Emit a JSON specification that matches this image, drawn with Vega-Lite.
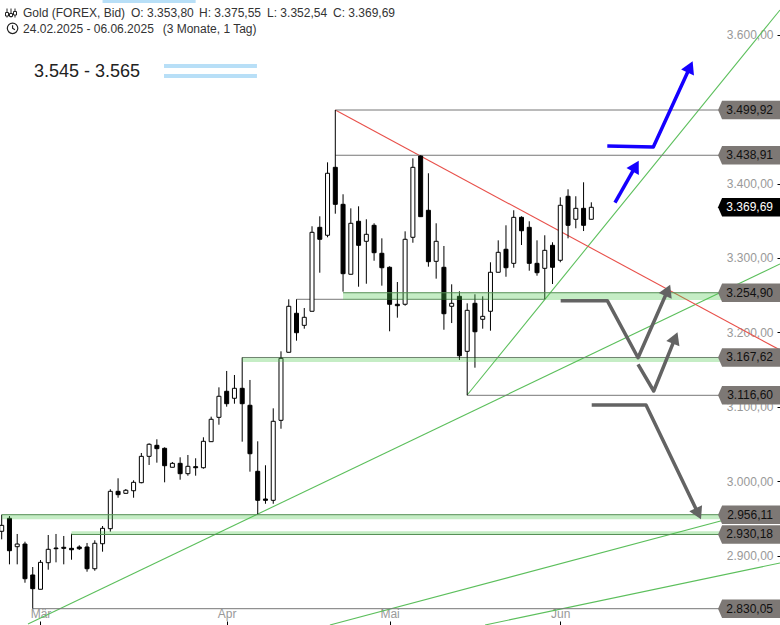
{"$schema":"https://vega.github.io/schema/vega-lite/v6.json","width":780,"height":625,"padding":0,"autosize":{"type":"none"},"background":"white","config":{"font":"Liberation Sans","view":{"stroke":null}},
"resolve":{"axis":{"x":"independent","y":"independent"}},
"datasets":{
"candles":[
{"i":0,"o":2932.8,"h":2955.1,"l":2922.0,"c":2940.8},{"i":1,"o":2950.2,"h":2953.3,"l":2888.4,"c":2906.7},{"i":2,"o":2912.1,"h":2929.2,"l":2888.4,"c":2915.7},{"i":3,"o":2915.7,"h":2918.8,"l":2863.7,"c":2869.1},{"i":4,"o":2874.1,"h":2884.8,"l":2828.8,"c":2855.7},{"i":5,"o":2854.9,"h":2894.2,"l":2854.9,"c":2891.1},{"i":6,"o":2890.6,"h":2927.8,"l":2881.2,"c":2908.6},{"i":7,"o":2910.3,"h":2929.2,"l":2891.1,"c":2909.4},{"i":8,"o":2911.3,"h":2926.5,"l":2888.4,"c":2909.9},{"i":9,"o":2909.9,"h":2929.5,"l":2894.6,"c":2908.0},
{"i":10,"o":2911.7,"h":2914.0,"l":2907.7,"c":2909.4},{"i":11,"o":2911.7,"h":2917.1,"l":2878.5,"c":2882.5},{"i":12,"o":2882.5,"h":2920.7,"l":2879.8,"c":2916.7},{"i":13,"o":2916.1,"h":2939.9,"l":2905.4,"c":2936.8},{"i":14,"o":2936.3,"h":2989.2,"l":2932.3,"c":2986.5},{"i":15,"o":2986.5,"h":3004.0,"l":2977.9,"c":2982.0},{"i":16,"o":2983.8,"h":2989.6,"l":2983.8,"c":2987.9},{"i":17,"o":2987.3,"h":3001.3,"l":2977.9,"c":2998.6},{"i":18,"o":2998.1,"h":3038.0,"l":2997.3,"c":3033.5},{"i":19,"o":3033.5,"h":3051.0,"l":3021.9,"c":3049.7},
{"i":20,"o":3048.3,"h":3056.4,"l":3025.0,"c":3043.8},{"i":21,"o":3044.3,"h":3045.6,"l":2998.6,"c":3020.9},{"i":22,"o":3018.8,"h":3025.9,"l":3018.8,"c":3024.1},{"i":23,"o":3024.1,"h":3032.2,"l":3002.1,"c":3010.2},{"i":24,"o":3010.2,"h":3035.3,"l":3007.5,"c":3020.1},{"i":25,"o":3019.6,"h":3030.9,"l":3007.5,"c":3018.2},{"i":26,"o":3018.2,"h":3059.1,"l":3016.9,"c":3053.7},{"i":27,"o":3053.2,"h":3086.8,"l":3053.2,"c":3083.3},{"i":28,"o":3085.9,"h":3126.2,"l":3076.0,"c":3114.2},{"i":29,"o":3120.9,"h":3148.2,"l":3100.2,"c":3104.2},
{"i":30,"o":3111.5,"h":3142.8,"l":3104.2,"c":3124.9},{"i":31,"o":3124.9,"h":3166.3,"l":3053.2,"c":3104.2},{"i":32,"o":3102.1,"h":3136.1,"l":3012.9,"c":3037.0},{"i":33,"o":3013.4,"h":3053.7,"l":2955.6,"c":2974.4},{"i":34,"o":2976.2,"h":3021.5,"l":2969.8,"c":2974.4},{"i":35,"o":2974.4,"h":3098.0,"l":2969.8,"c":3080.6},{"i":36,"o":3081.9,"h":3174.6,"l":3070.6,"c":3165.2},{"i":37,"o":3173.3,"h":3244.5,"l":3173.3,"c":3235.1},{"i":38,"o":3225.7,"h":3244.5,"l":3188.9,"c":3199.6},{"i":39,"o":3209.5,"h":3232.8,"l":3205.0,"c":3220.3},
{"i":40,"o":3228.4,"h":3342.6,"l":3228.4,"c":3334.5},{"i":41,"o":3341.2,"h":3356.0,"l":3280.2,"c":3325.1},{"i":42,"o":3330.5,"h":3428.5,"l":3327.8,"c":3413.8},{"i":43,"o":3421.8,"h":3498.8,"l":3359.5,"c":3372.1},{"i":44,"o":3372.1,"h":3385.6,"l":3254.7,"c":3278.9},{"i":45,"o":3278.1,"h":3366.7,"l":3278.1,"c":3346.6},{"i":46,"o":3349.3,"h":3369.4,"l":3261.4,"c":3317.0},{"i":47,"o":3322.4,"h":3352.0,"l":3265.4,"c":3331.8},{"i":48,"o":3343.9,"h":3346.6,"l":3296.3,"c":3307.1},{"i":49,"o":3306.3,"h":3326.4,"l":3262.8,"c":3286.9},
{"i":50,"o":3287.5,"h":3288.8,"l":3201.5,"c":3237.8},{"i":51,"o":3237.8,"h":3267.7,"l":3219.8,"c":3235.9},{"i":52,"o":3237.8,"h":3335.8,"l":3235.9,"c":3325.1},{"i":53,"o":3327.8,"h":3433.9,"l":3320.5,"c":3421.8},{"i":54,"o":3437.0,"h":3438.0,"l":3355.5,"c":3355.5},{"i":55,"o":3364.1,"h":3413.8,"l":3288.3,"c":3295.0},{"i":56,"o":3295.5,"h":3346.6,"l":3272.2,"c":3322.4},{"i":57,"o":3287.5,"h":3316.1,"l":3203.6,"c":3225.1},{"i":58,"o":3235.1,"h":3264.6,"l":3212.6,"c":3239.1},{"i":59,"o":3248.5,"h":3255.2,"l":3162.9,"c":3168.7},
{"i":60,"o":3174.6,"h":3239.1,"l":3115.5,"c":3229.7},{"i":61,"o":3239.1,"h":3251.2,"l":3152.6,"c":3200.9},{"i":62,"o":3217.6,"h":3248.5,"l":3205.0,"c":3221.6},{"i":63,"o":3228.4,"h":3294.2,"l":3202.3,"c":3280.8},{"i":64,"o":3280.8,"h":3323.7,"l":3280.8,"c":3307.6},{"i":65,"o":3311.7,"h":3343.9,"l":3274.8,"c":3286.9},{"i":66,"o":3292.8,"h":3364.1,"l":3286.9,"c":3354.6},{"i":67,"o":3354.6,"h":3356.0,"l":3317.4,"c":3336.6},{"i":68,"o":3341.2,"h":3349.3,"l":3282.9,"c":3292.8},{"i":69,"o":3292.8,"h":3323.7,"l":3276.2,"c":3280.2},
{"i":70,"o":3286.1,"h":3330.5,"l":3244.5,"c":3310.3},{"i":71,"o":3317.0,"h":3321.1,"l":3265.0,"c":3287.5},{"i":72,"o":3296.9,"h":3381.5,"l":3294.2,"c":3370.8},{"i":73,"o":3382.9,"h":3392.3,"l":3326.4,"c":3343.9},{"i":74,"o":3352.0,"h":3382.9,"l":3339.9,"c":3366.7},{"i":75,"o":3366.7,"h":3401.7,"l":3336.2,"c":3343.9},{"i":76,"o":3352.0,"h":3374.8,"l":3352.0,"c":3368.1}],
"trend":[
{"s":"g1","c":"green","i":3.39,"p":2808.2},{"s":"g1","c":"green","i":100.32,"p":3291.9},
{"s":"g2","c":"green","i":60,"p":3115.9},{"s":"g2","c":"green","i":100.32,"p":3633.2},
{"s":"g3","c":"green","i":42.3,"p":2806.9},{"s":"g3","c":"green","i":97.74,"p":2960.7},
{"s":"g4","c":"green","i":62.3,"p":2806.9},{"s":"g4","c":"green","i":100.32,"p":2890.2},
{"s":"r","c":"red","i":43,"p":3498.8},{"s":"r","c":"red","i":100.32,"p":3176.4}],
"hlines":[
{"a":43,"b":96,"p":3498.8,"k":"gray"},{"a":43,"b":96,"p":3438.0,"k":"gray"},{"a":60,"b":96,"p":3115.5,"k":"gray"},{"a":4,"b":96,"p":2828.8,"k":"gray"},{"a":38,"b":70,"p":3244.5,"k":"gray"},{"a":31,"b":96,"p":3166.3,"k":"gray"},
{"a":44,"b":96,"p":3253.3,"k":"green"},{"a":0,"b":96,"p":2955.1,"k":"green"},{"a":9,"b":96,"p":2928.5,"k":"green"}],
"bands":[
{"a":44,"b":96,"t":3253.3,"u":3243.5},{"a":31,"b":96,"t":3166.3,"u":3160.2},{"a":0,"b":96,"t":2955.1,"u":2949.0},{"a":9,"b":96,"t":2933.0,"u":2928.5}],
"tags":[
{"p":3498.8,"t":"3.499,92","k":"level"},{"p":3438.0,"t":"3.438,91","k":"level"},{"p":3368.1,"t":"3.369,69","k":"last"},{"p":3253.3,"t":"3.254,90","k":"level"},{"p":3166.3,"t":"3.167,62","k":"level"},{"p":3115.5,"t":"3.116,60","k":"level"},{"p":2955.1,"t":"2.956,11","k":"level"},{"p":2928.5,"t":"2.930,18","k":"level"},{"p":2828.8,"t":"2.830,05","k":"level"}],
"arrows":[
{"s":"a","c":"blue","n":1,"i":78.06,"p":3450.4},{"s":"a","c":"blue","n":2,"i":83.99,"p":3449.1},{"s":"a","c":"blue","n":3,"i":88.62,"p":3554.2},
{"s":"b","c":"blue","n":1,"i":79.05,"p":3374.3},{"s":"b","c":"blue","n":2,"i":81.59,"p":3421.0},
{"s":"c","c":"gray","n":1,"i":72.05,"p":3242.6},{"s":"c","c":"gray","n":2,"i":78.06,"p":3242.6},{"s":"c","c":"gray","n":3,"i":82.02,"p":3166.0},{"s":"c","c":"gray","n":4,"i":85.74,"p":3254.0},
{"s":"d","c":"gray","n":1,"i":82.02,"p":3157.1},{"s":"d","c":"gray","n":2,"i":84.04,"p":3121.3},{"s":"d","c":"gray","n":3,"i":86.71,"p":3189.9},
{"s":"e","c":"gray","n":1,"i":76.05,"p":3102.5},{"s":"e","c":"gray","n":2,"i":83.05,"p":3102.5},{"s":"e","c":"gray","n":3,"i":89.68,"p":2958.8}],
"heads":[
{"c":"blue","i":88.62,"p":3554.2,"deg":24.6},{"c":"blue","i":81.59,"p":3421.0,"deg":29.6},{"c":"gray","i":85.74,"p":3254.0,"deg":23.8},{"c":"gray","i":86.71,"p":3189.9,"deg":22.1},{"c":"gray","i":89.68,"p":2958.8,"deg":154.3}],
"labels":[
{"i":2.75,"p":3629.1,"t":"Gold (FOREX, Bid)"},{"i":16.67,"p":3629.1,"t":"O: 3.353,80"},{"i":25.43,"p":3629.1,"t":"H: 3.375,55"},{"i":34.2,"p":3629.1,"t":"L: 3.352,54"},{"i":42.7,"p":3629.1,"t":"C: 3.369,69"},{"i":2.75,"p":3608.3,"t":"24.02.2025 - 06.06.2025"},{"i":20.75,"p":3608.3,"t":"(3 Monate, 1 Tag)"}],
"swatches":[
{"a":13,"b":25,"t":3646.6,"u":3642.6},{"a":20.92,"b":32.9,"t":3560.6,"u":3555.3},{"a":20.92,"b":32.9,"t":3547.2,"u":3541.9}]
},
"layer":[
{"data":{"values":[{"i":0,"p":3000}]},"mark":{"type":"point","opacity":0},
 "encoding":{
  "x":{"field":"i","type":"quantitative","scale":{"domain":[-0.219,100.32],"nice":false,"zero":false,"padding":0},"axis":{"orient":"top","offset":-625,"values":[5,29,50,72],"title":null,"grid":false,"domain":false,"tickColor":"#000","tickSize":4,"labelPadding":1,"labelColor":"#999","labelFontSize":12,"labelFont":"Liberation Sans","labelExpr":"datum.value==5?'Mär':datum.value==29?'Apr':datum.value==50?'Mai':'Jun'"}},
  "y":{"field":"p","type":"quantitative","scale":{"domain":[2806.9,3646.6],"nice":false,"zero":false},"axis":{"orient":"right","offset":-3,"values":[2900,3000,3100,3200,3300,3400,3500,3600],"title":null,"grid":false,"domain":false,"tickColor":"#000","tickSize":4,"labelPadding":-8,"labelAlign":"right","labelColor":"#999","labelFontSize":12,"labelFont":"Liberation Sans","labelExpr":"replace(replace(replace(format(datum.value,',.2f'),',','#'),'.',','),'#','.')"}}}},
{"data":{"name":"trend"},"transform":[{"filter":"datum.c=='green'"}],"mark":{"type":"line","strokeWidth":1.1,"clip":true,"stroke":"#5cbf5c"},
 "encoding":{"x":{"field":"i","type":"quantitative","axis":null},"y":{"field":"p","type":"quantitative","axis":null},"detail":{"field":"s"}}},
{"data":{"name":"trend"},"transform":[{"filter":"datum.c=='red'"}],"mark":{"type":"line","strokeWidth":1.1,"clip":true,"stroke":"#e8504a"},
 "encoding":{"x":{"field":"i","type":"quantitative","axis":null},"y":{"field":"p","type":"quantitative","axis":null},"detail":{"field":"s"}}},
{"data":{"name":"hlines"},"transform":[{"filter":"datum.k=='gray'"}],"mark":{"type":"rule","stroke":"#777777","strokeWidth":1},
 "encoding":{"x":{"field":"a","type":"quantitative","axis":null},"x2":{"field":"b"},"y":{"field":"p","type":"quantitative","axis":null}}},
{"data":{"name":"candles"},"mark":{"type":"rule","stroke":"#000","strokeWidth":1},
 "encoding":{"x":{"field":"i","type":"quantitative","axis":null},"y":{"field":"l","type":"quantitative","axis":null},"y2":{"field":"h"}}},
{"data":{"name":"candles"},"mark":{"type":"bar","size":4,"stroke":"#000","strokeWidth":1},
 "encoding":{"x":{"field":"i","type":"quantitative","axis":null},"y":{"field":"o","type":"quantitative","axis":null},"y2":{"field":"c"},
  "fill":{"condition":{"test":"datum.c>=datum.o","value":"#ffffff"},"value":"#000000"}}},
{"data":{"name":"bands"},"mark":{"type":"rect","fill":"#4fc94f","opacity":0.33},
 "encoding":{"x":{"field":"a","type":"quantitative","axis":null},"x2":{"field":"b"},"y":{"field":"t","type":"quantitative","axis":null},"y2":{"field":"u"}}},
{"data":{"name":"hlines"},"transform":[{"filter":"datum.k=='green'"}],"mark":{"type":"rule","stroke":"#558f55","strokeWidth":1},
 "encoding":{"x":{"field":"a","type":"quantitative","axis":null},"x2":{"field":"b"},"y":{"field":"p","type":"quantitative","axis":null}}},
{"data":{"name":"swatches"},"mark":{"type":"rect","fill":"#b8dff7"},
 "encoding":{"x":{"field":"a","type":"quantitative","axis":null},"x2":{"field":"b"},"y":{"field":"t","type":"quantitative","axis":null},"y2":{"field":"u"}}},
{"data":{"name":"arrows"},"transform":[{"filter":"datum.c=='blue'"}],"mark":{"type":"line","strokeWidth":3.5,"strokeCap":"butt","strokeJoin":"round","stroke":"#1500ff"},
 "encoding":{"x":{"field":"i","type":"quantitative","axis":null},"y":{"field":"p","type":"quantitative","axis":null},"detail":{"field":"s"},"order":{"field":"n"}}},
{"data":{"name":"arrows"},"transform":[{"filter":"datum.c=='gray'"}],"mark":{"type":"line","strokeWidth":3.5,"strokeCap":"butt","strokeJoin":"round","stroke":"#636363"},
 "encoding":{"x":{"field":"i","type":"quantitative","axis":null},"y":{"field":"p","type":"quantitative","axis":null},"detail":{"field":"s"},"order":{"field":"n"}}},
{"data":{"name":"heads"},"mark":{"type":"point","shape":"triangle","size":200,"filled":true,"opacity":1},
 "encoding":{"x":{"field":"i","type":"quantitative","axis":null},"y":{"field":"p","type":"quantitative","axis":null},"angle":{"field":"deg","type":"quantitative","scale":null},
  "fill":{"condition":{"test":"datum.c=='blue'","value":"#1500ff"},"value":"#636363"}}},
{"data":{"name":"tags"},"mark":{"type":"point","filled":true,"opacity":1,"size":3844,"shape":"M-1 0L-0.87 -0.3L1 -0.3L1 0.3L-0.87 0.3Z"},
 "encoding":{"x":{"datum":96.33,"type":"quantitative","axis":null},"y":{"field":"p","type":"quantitative","axis":null},
  "fill":{"condition":{"test":"datum.k=='last'","value":"#000000"},"value":"#7d7875"}}},
{"data":{"name":"tags"},"mark":{"type":"text","align":"right","baseline":"middle","fontSize":12},
 "encoding":{"x":{"datum":99.42,"type":"quantitative","axis":null},"y":{"field":"p","type":"quantitative","axis":null},"text":{"field":"t"},
  "color":{"condition":{"test":"datum.k=='last'","value":"#ffffff"},"value":"#111111"}}},
{"data":{"name":"labels"},"mark":{"type":"text","align":"left","baseline":"middle","fontSize":12,"color":"#333333"},
 "encoding":{"x":{"field":"i","type":"quantitative","axis":null},"y":{"field":"p","type":"quantitative","axis":null},"text":{"field":"t"}}},
{"data":{"values":[{"i":4.16,"p":3549.9,"t":"3.545 - 3.565"}]},"mark":{"type":"text","align":"left","baseline":"middle","fontSize":18,"color":"#222222"},
 "encoding":{"x":{"field":"i","type":"quantitative","axis":null},"y":{"field":"p","type":"quantitative","axis":null},"text":{"field":"t"}}},
{"data":{"values":[{"i":1.4,"p":3608.6}]},"mark":{"type":"point","filled":false,"opacity":1,"stroke":"#222","strokeWidth":1.2,"size":110,"shape":"M-1 0A1 1 0 1 1 1 0A1 1 0 1 1 -1 0ZM0 -0.6L0 0L0.45 0.3"},
 "encoding":{"x":{"field":"i","type":"quantitative","axis":null},"y":{"field":"p","type":"quantitative","axis":null}}},
{"data":{"values":[{"i":1.2,"p":3629.1}]},"mark":{"type":"point","filled":false,"opacity":1,"stroke":"#222","strokeWidth":1,"size":100,"shape":"M-0.8 -0.9L-0.8 -0.1M-0.8 0.6L-0.8 0.9M-1.1 -0.1L-0.5 -0.1L-0.5 0.6L-1.1 0.6ZM0 -0.9L0 0.1M0 0.7L0 0.9M-0.3 0.1L0.3 0.1L0.3 0.7L-0.3 0.7ZM0.8 -0.9L0.8 -0.3M0.8 0.4L0.8 0.9M0.5 -0.3L1.1 -0.3L1.1 0.4L0.5 0.4Z"},
 "encoding":{"x":{"field":"i","type":"quantitative","axis":null},"y":{"field":"p","type":"quantitative","axis":null}}}
]}
